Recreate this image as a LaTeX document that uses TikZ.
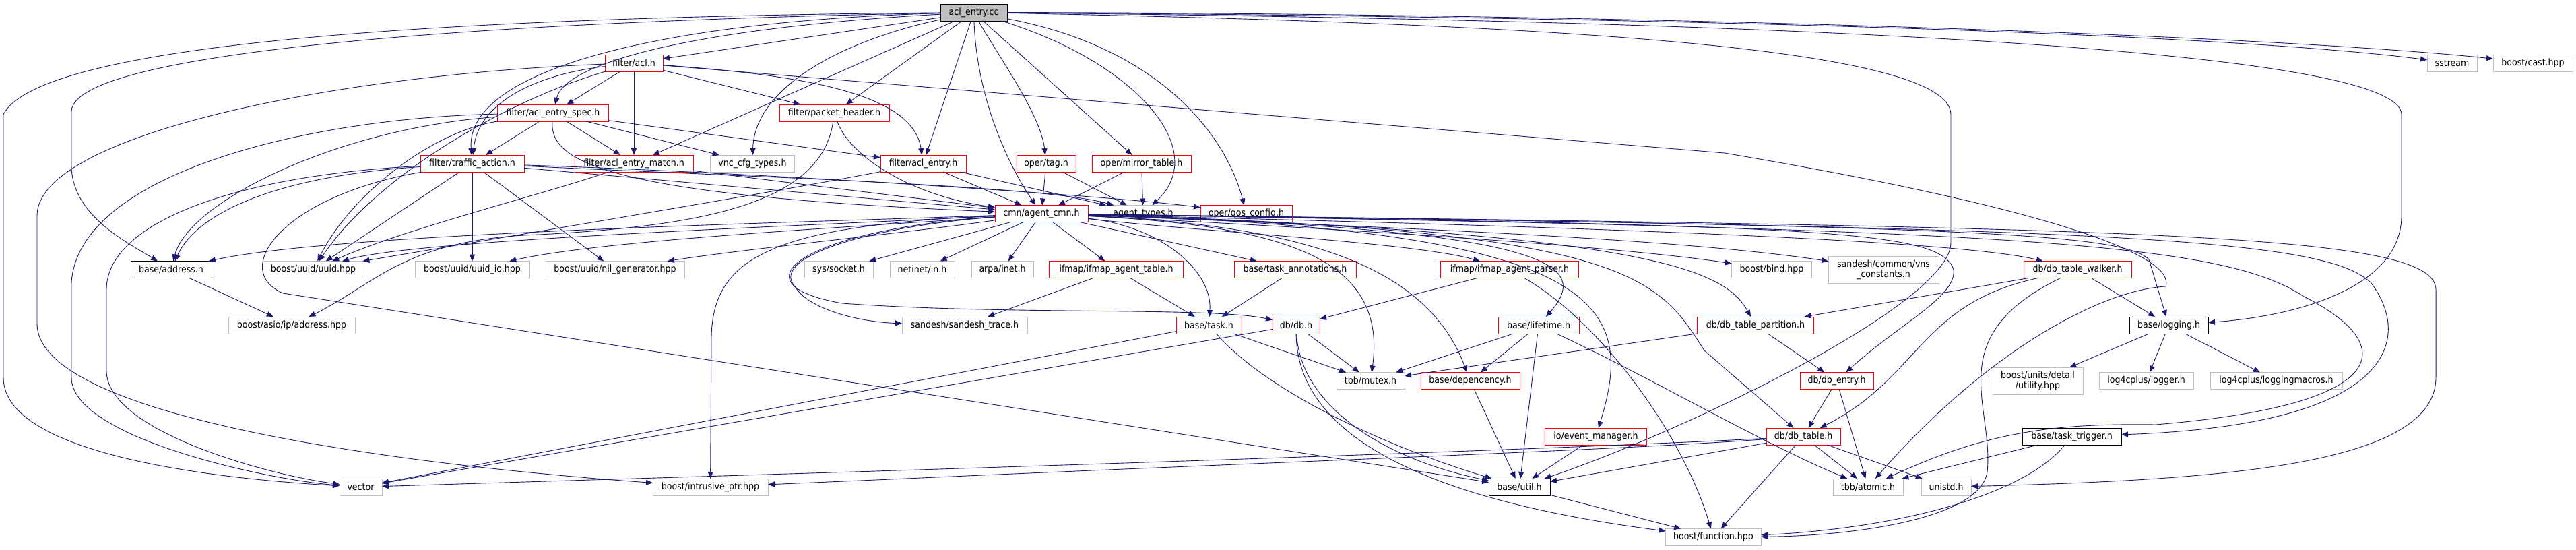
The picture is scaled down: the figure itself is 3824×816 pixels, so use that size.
\documentclass[tikz,border=0pt]{standalone}
\usepackage{fontspec}
\setmainfont{DejaVu Sans}[FakeStretch=0.9]
\usetikzlibrary{arrows.meta}
\begin{document}
\begin{tikzpicture}[x=1pt,y=-1pt,
  every node/.style={minimum height=25pt, inner sep=0pt, outer sep=0pt, fill=white, line width=0.9pt, align=center, font=\fontsize{14}{15}\selectfont},
  redfile/.style={draw={rgb,255:red,255;green,0;blue,0}},
  extfile/.style={draw={rgb,255:red,191;green,191;blue,191}},
  docfile/.style={draw=black},
  incl/.style={draw={rgb,255:red,25;green,25;blue,112}, line width=0.9pt, -{Triangle[length=10pt,width=8pt]}}]
\useasboundingbox (0,0) rectangle (3824,816);
\node[docfile, fill={rgb,255:red,191;green,191;blue,191}, minimum width=99pt] (cc) at (1445.5,18.5) {acl\_entry.cc};
\node[redfile, minimum width=86pt] (acl) at (941,93.5) {filter/acl.h};
\node[redfile, minimum width=165pt] (spec) at (821,167.5) {filter/acl\_entry\_spec.h};
\node[redfile, minimum width=163pt] (pkt) at (1238.5,167.5) {filter/packet\_header.h};
\node[redfile, minimum width=154pt] (ta) at (701,242.5) {filter/traffic\_action.h};
\node[redfile, minimum width=176pt] (match) at (941,242.5) {filter/acl\_entry\_match.h};
\node[extfile, minimum width=125pt] (vnc) at (1117,242.5) {vnc\_cfg\_types.h};
\node[redfile, minimum width=127pt] (aent) at (1370.5,242.5) {filter/acl\_entry.h};
\node[redfile, minimum width=88pt] (tag) at (1553,242.5) {oper/tag.h};
\node[redfile, minimum width=147pt] (mirror) at (1694.5,242.5) {oper/mirror\_table.h};
\node[redfile, minimum width=138pt] (cmn) at (1546,317) {cmn/agent\_cmn.h};
\node[extfile, minimum width=114pt] (atypes) at (1697,317) {agent\_types.h};
\node[redfile, minimum width=136pt] (qos) at (1850,317) {oper/qos\_config.h};
\node[extfile, minimum width=74pt] (sstream) at (3640,93.5) {sstream};
\node[extfile, minimum width=118pt] (cast) at (3760,93.5) {boost/cast.hpp};
\node[docfile, minimum width=120pt] (addr) at (254,400) {base/address.h};
\node[extfile, minimum width=150pt] (uuid) at (465,400) {boost/uuid/uuid.hpp};
\node[extfile, minimum width=170pt] (uuidio) at (701,400) {boost/uuid/uuid\_io.hpp};
\node[extfile, minimum width=206pt] (nilgen) at (913,400) {boost/uuid/nil\_generator.hpp};
\node[extfile, minimum width=102pt] (socket) at (1245,400) {sys/socket.h};
\node[extfile, minimum width=96pt] (netin) at (1369,400) {netinet/in.h};
\node[extfile, minimum width=92pt] (inet) at (1488,400) {arpa/inet.h};
\node[redfile, minimum width=199pt] (ifmaptab) at (1657,400) {ifmap/ifmap\_agent\_table.h};
\node[redfile, minimum width=181pt] (taskann) at (1922.5,400) {base/task\_annotations.h};
\node[redfile, minimum width=205pt] (parser) at (2241,400) {ifmap/ifmap\_agent\_parser.h};
\node[extfile, minimum width=119pt] (bind) at (2630,400) {boost/bind.hpp};
\node[extfile, minimum width=164pt, minimum height=40pt] (vns) at (2796,400) {sandesh/common/vns\\\_constants.h};
\node[redfile, minimum width=160pt] (walker) at (3084,400) {db/db\_table\_walker.h};
\node[extfile, minimum width=188pt] (asio) at (433,482.5) {boost/asio/ip/address.hpp};
\node[extfile, minimum width=186pt] (trace) at (1432,482.5) {sandesh/sandesh\_trace.h};
\node[redfile, minimum width=97pt] (task) at (1794.5,482.5) {base/task.h};
\node[redfile, minimum width=70pt] (db) at (1924,482.5) {db/db.h};
\node[redfile, minimum width=120pt] (lifetime) at (2284,482.5) {base/lifetime.h};
\node[redfile, minimum width=173pt] (part) at (2606,482.5) {db/db\_table\_partition.h};
\node[docfile, minimum width=117pt] (logging) at (3219.5,482.5) {base/logging.h};
\node[extfile, minimum width=101pt] (mutex) at (2034.5,565) {tbb/mutex.h};
\node[redfile, minimum width=147pt] (dep) at (2182.5,565) {base/dependency.h};
\node[redfile, minimum width=109pt] (dbentry) at (2726.5,565) {db/db\_entry.h};
\node[extfile, minimum width=134pt, minimum height=40pt] (unitutil) at (3025,565) {boost/units/detail\\/utility.hpp};
\node[extfile, minimum width=140pt] (logger) at (3186,565) {log4cplus/logger.h};
\node[extfile, minimum width=196pt] (macros) at (3379,565) {log4cplus/loggingmacros.h};
\node[redfile, minimum width=151pt] (evm) at (2369,647.5) {io/event\_manager.h};
\node[redfile, minimum width=110pt] (dbtable) at (2677,647.5) {db/db\_table.h};
\node[docfile, minimum width=147pt] (trigger) at (3075.5,647.5) {base/task\_trigger.h};
\node[extfile, minimum width=63pt] (vector) at (535.5,722.5) {vector};
\node[extfile, minimum width=171pt] (intr) at (1054.5,722.5) {boost/intrusive\_ptr.hpp};
\node[docfile, minimum width=91pt] (util) at (2255.5,722.5) {base/util.h};
\node[extfile, minimum width=104pt] (atomic) at (2773,722.5) {tbb/atomic.h};
\node[extfile, minimum width=74pt] (unistd) at (2889,722.5) {unistd.h};
\node[extfile, minimum width=142pt] (func) at (2543.5,797) {boost/function.hpp};
\draw[incl] (cc) .. controls (700,25) and (60,60) .. (5,170) -- (5,560) .. controls (5,680) and (350,712) .. (vector);
\draw[incl] (cc) .. controls (800,30) and (110,70) .. (106,165) -- (106,245) .. controls (106,320) and (190,360) .. (addr);
\draw[incl] (cc) .. controls (1000,30) and (690,100) .. (ta);
\draw[incl] (cc) .. controls (1050,40) and (840,90) .. (spec);
\draw[incl] (cc) -- (acl);
\draw[incl] (cc) -- (match);
\draw[incl] (cc) .. controls (1250,60) and (1120,130) .. (vnc);
\draw[incl] (cc) -- (pkt);
\draw[incl] (cc) -- (aent);
\draw[incl] (cc) .. controls (1450,150) and (1500,250) .. (cmn);
\draw[incl] (cc) .. controls (1480,80) and (1545,170) .. (tag);
\draw[incl] (cc) -- (mirror);
\draw[incl] (cc) .. controls (1680,90) and (1800,220) .. (atypes);
\draw[incl] (cc) .. controls (1720,70) and (1820,200) .. (qos);
\draw[incl] (cc) .. controls (2500,25) and (3300,50) .. (sstream);
\draw[incl] (cc) .. controls (2500,20) and (3400,55) .. (cast);
\draw[incl] (cc) .. controls (2300,35) and (2896,70) .. (2896,170) -- (2896,360) .. controls (2896,450) and (2500,640) .. (util);
\draw[incl] (cc) .. controls (2600,30) and (3565,70) .. (3565,170) -- (3565,320) .. controls (3565,430) and (3400,470) .. (logging);
\draw[incl] (acl) -- (spec);
\draw[incl] (acl) .. controls (800,110) and (710,150) .. (ta);
\draw[incl] (acl) -- (match);
\draw[incl] (acl) -- (pkt);
\draw[incl] (acl) .. controls (1200,112) and (1355,140) .. (aent);
\draw[incl] (acl) .. controls (500,110) and (55,200) .. (55,320) -- (55,480) .. controls (55,620) and (600,690) .. (intr);
\draw[incl] (acl) .. controls (750,150) and (560,260) .. (uuid);
\draw[incl] (acl) -- (2560,227) .. controls (3050,310) and (3230,380) .. (3215,425) .. controls (3120,430) and (2950,520) .. (atomic);
\draw[incl] (spec) -- (ta);
\draw[incl] (spec) -- (match);
\draw[incl] (spec) -- (vnc);
\draw[incl] (spec) -- (aent);
\draw[incl] (spec) .. controls (815,240) and (900,290) .. (cmn);
\draw[incl] (spec) .. controls (450,175) and (115,260) .. (106,420) -- (106,560) .. controls (106,650) and (400,712) .. (vector);
\draw[incl] (spec) .. controls (500,190) and (280,300) .. (addr);
\draw[incl] (spec) .. controls (640,195) and (520,290) .. (uuid);
\draw[incl] (ta) .. controls (350,260) and (158,330) .. (158,430) -- (158,550) .. controls (158,640) and (400,705) .. (vector);
\draw[incl] (ta) .. controls (400,262) and (290,320) .. (addr);
\draw[incl] (ta) .. controls (420,290) and (340,400) .. (420,435) -- (util);
\draw[incl] (ta) -- (uuid);
\draw[incl] (ta) -- (uuidio);
\draw[incl] (ta) -- (nilgen);
\draw[incl] (ta) -- (cmn);
\draw[incl] (ta) .. controls (1100,262) and (1550,275) .. (atypes);
\draw[incl] (ta) .. controls (1100,255) and (1650,290) .. (qos);
\draw[incl] (match) -- (cmn);
\draw[incl] (match) .. controls (800,290) and (600,340) .. (uuid);
\draw[incl] (pkt) .. controls (1260,230) and (1350,290) .. (cmn);
\draw[incl] (pkt) .. controls (1220,300) and (1050,335) .. (800,348) .. controls (600,355) and (560,420) .. (asio);
\draw[incl] (aent) -- (cmn);
\draw[incl] (aent) -- (atypes);
\draw[incl] (aent) .. controls (1150,285) and (700,360) .. (uuid);
\draw[incl] (tag) -- (cmn);
\draw[incl] (tag) -- (atypes);
\draw[incl] (mirror) -- (cmn);
\draw[incl] (mirror) -- (atypes);
\draw[incl] (cmn) .. controls (1200,330) and (500,345) .. (addr);
\draw[incl] (cmn) .. controls (1200,335) and (620,355) .. (uuid);
\draw[incl] (cmn) .. controls (1300,335) and (900,355) .. (uuidio);
\draw[incl] (cmn) .. controls (1350,345) and (1100,370) .. (nilgen);
\draw[incl] (cmn) -- (socket);
\draw[incl] (cmn) -- (netin);
\draw[incl] (cmn) -- (inet);
\draw[incl] (cmn) -- (ifmaptab);
\draw[incl] (cmn) -- (taskann);
\draw[incl] (cmn) .. controls (1150,335) and (1058,380) .. (1056,500) -- (intr);
\draw[incl] (cmn) .. controls (1200,340) and (1080,420) .. (1250,450) .. controls (1500,468) and (1800,455) .. (db);
\draw[incl] (cmn) .. controls (1300,335) and (1140,380) .. (1180,425) .. controls (1200,460) and (1280,478) .. (trace);
\draw[incl] (cmn) .. controls (1720,335) and (1800,400) .. (task);
\draw[incl] (cmn) .. controls (1800,345) and (2100,360) .. (parser);
\draw[incl] (cmn) .. controls (1900,335) and (2060,380) .. (mutex);
\draw[incl] (cmn) .. controls (1950,335) and (2120,400) .. (dep);
\draw[incl] (cmn) .. controls (2300,340) and (2365,390) .. (lifetime);
\draw[incl] (cmn) .. controls (2380,340) and (2430,450) .. (evm);
\draw[incl] (cmn) .. controls (2420,340) and (2460,410) .. (2530,520) -- (dbtable);
\draw[incl] (cmn) .. controls (2450,345) and (2560,400) .. (part);
\draw[incl] (cmn) .. controls (2000,340) and (2400,365) .. (bind);
\draw[incl] (cmn) .. controls (2100,338) and (2500,355) .. (vns);
\draw[incl] (cmn) .. controls (2300,335) and (2900,355) .. (walker);
\draw[incl] (cmn) .. controls (2700,335) and (2880,340) .. (2900,400) .. controls (2905,440) and (2820,480) .. (dbentry);
\draw[incl] (cmn) .. controls (2900,335) and (3150,345) .. (3190,385) -- (logging);
\draw[incl] (cmn) .. controls (3000,340) and (3300,360) .. (3420,440) .. controls (3560,510) and (3560,600) .. (3200,630) .. controls (3050,628) and (2950,640) .. (atomic);
\draw[incl] (cmn) .. controls (3100,338) and (3450,350) .. (3520,420) .. controls (3580,500) and (3560,630) .. (trigger);
\draw[incl] (cmn) .. controls (3200,338) and (3616,345) .. (3616,430) -- (3616,560) .. controls (3616,690) and (3300,712) .. (unistd);
\draw[incl] (ifmaptab) -- (trace);
\draw[incl] (ifmaptab) -- (task);
\draw[incl] (taskann) -- (task);
\draw[incl] (parser) -- (db);
\draw[incl] (parser) .. controls (2380,480) and (2500,650) .. (func);
\draw[incl] (walker) -- (part);
\draw[incl] (walker) .. controls (2850,450) and (2850,560) .. (dbtable);
\draw[incl] (walker) -- (logging);
\draw[incl] (walker) .. controls (2880,500) and (2960,600) .. (2950,700) .. controls (2940,770) and (2750,795) .. (func);
\draw[incl] (addr) -- (asio);
\draw[incl] (task) -- (vector);
\draw[incl] (task) -- (mutex);
\draw[incl] (task) .. controls (1880,580) and (2050,660) .. (util);
\draw[incl] (db) -- (vector);
\draw[incl] (db) -- (mutex);
\draw[incl] (db) .. controls (1930,600) and (2050,680) .. (util);
\draw[incl] (db) .. controls (1925,640) and (2100,740) .. (func);
\draw[incl] (lifetime) -- (mutex);
\draw[incl] (lifetime) -- (dep);
\draw[incl] (lifetime) -- (util);
\draw[incl] (lifetime) .. controls (2450,560) and (2620,660) .. (atomic);
\draw[incl] (part) -- (mutex);
\draw[incl] (part) -- (dbentry);
\draw[incl] (logging) -- (unitutil);
\draw[incl] (logging) -- (logger);
\draw[incl] (logging) -- (macros);
\draw[incl] (dep) -- (util);
\draw[incl] (evm) -- (util);
\draw[incl] (dbentry) -- (dbtable);
\draw[incl] (dbentry) -- (atomic);
\draw[incl] (dbtable) -- (atomic);
\draw[incl] (dbtable) -- (unistd);
\draw[incl] (dbtable) -- (func);
\draw[incl] (dbtable) -- (util);
\draw[incl] (dbtable) .. controls (2400,668) and (1900,685) .. (1300,712) -- (intr);
\draw[incl] (dbtable) .. controls (2400,662) and (1900,680) .. (1300,699) -- (vector);
\draw[incl] (trigger) -- (atomic);
\draw[incl] (trigger) .. controls (3000,740) and (2800,785) .. (func);
\draw[incl] (util) -- (func);
\end{tikzpicture}
\end{document}
